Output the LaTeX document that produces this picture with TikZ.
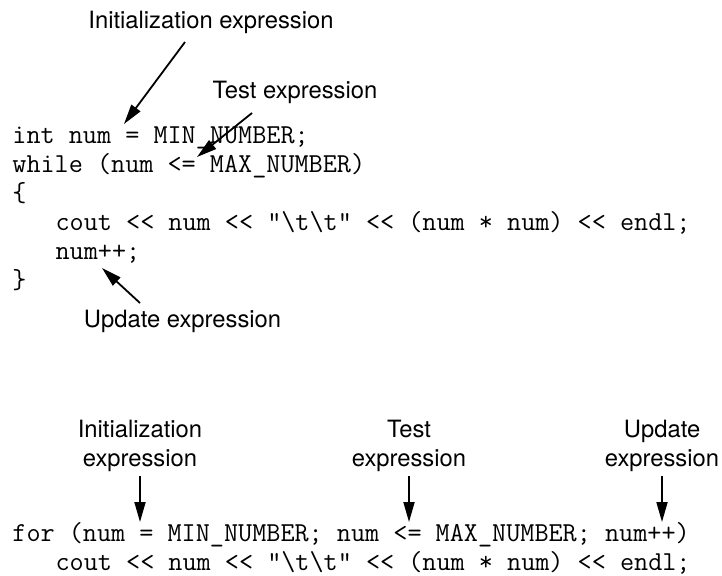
\documentclass[tikz,border=0pt]{standalone}
\usepackage{fontspec}
\setmainfont{TeX Gyre Heros}
\usetikzlibrary{arrows.meta}

\begin{document}
\begin{tikzpicture}[x=0.5pt, y=-0.5pt,
    code/.style={anchor=base west, inner sep=0pt, font=\ttfamily\fontsize{13.7}{14.5}\selectfont},
    note/.style={inner sep=2pt, align=center, font=\fontsize{11.9}{14.5}\selectfont},
    pointer/.style={-{Triangle[length=10pt, width=5.5pt]}, line width=0.9pt},
  ]
  \useasboundingbox (0,0) rectangle (722,575);

  % while loop
  \node[code] (intLine)    at (12,143)   {int num = MIN\_NUMBER;};
  \node[code] (whileLine)  at (12,172)   {while (num <= MAX\_NUMBER)};
  \node[code] (openBrace)  at (12,201)   {\{};
  \node[code] (coutLine)   at (55.2,230) {cout << num << "\textbackslash t\textbackslash t" << (num * num) << endl;};
  \node[code] (incLine)    at (55.2,259) {num++;};
  \node[code] (closeBrace) at (12,288)   {\}};

  \node[note, anchor=base] (initNote)   at (211,28)    {Initialization expression};
  \node[note, anchor=base] (testNote)   at (295,98)    {Test expression};
  \node[note, anchor=base] (updateNote) at (182.5,327) {Update expression};

  \coordinate (initTail)   at (185,42);
  \coordinate (initTip)    at (124,124);
  \coordinate (testTail)   at (252,113);
  \coordinate (testTip)    at (197,157);
  \coordinate (updateTail) at (140,303);
  \coordinate (updateTip)  at (102,268);

  \draw[pointer] (initTail) -- (initTip);
  \draw[pointer] (testTail) -- (testTip);
  \draw[pointer] (updateTail) -- (updateTip);

  % for loop
  \node[code] (forLine) at (12,541)   {for (num = MIN\_NUMBER; num <= MAX\_NUMBER; num++)};
  \node[code] (forBody) at (55.2,570) {cout << num << "\textbackslash t\textbackslash t" << (num * num) << endl;};

  \node[note, anchor=south] (forInit)   at (140,476) {Initialization\\expression};
  \node[note, anchor=south] (forTest)   at (409,476) {Test\\expression};
  \node[note, anchor=south] (forUpdate) at (662,476) {Update\\expression};

  \coordinate (forInitTip)   at (140,522);
  \coordinate (forTestTip)   at (409,522);
  \coordinate (forUpdateTip) at (662,522);

  \draw[pointer] (forInit) -- (forInitTip);
  \draw[pointer] (forTest) -- (forTestTip);
  \draw[pointer] (forUpdate) -- (forUpdateTip);
\end{tikzpicture}
\end{document}
